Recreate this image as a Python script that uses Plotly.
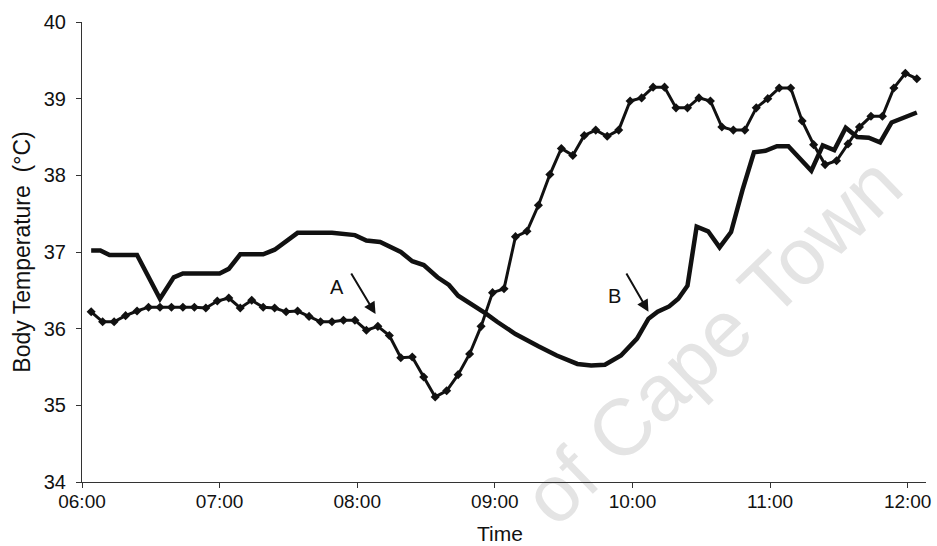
import plotly.graph_objects as go

# ---- data ----
s1_time = ["06:04", "06:08", "06:12", "06:24", "06:34", "06:40", "06:44", "07:00", "07:04", "07:09",
           "07:19", "07:24", "07:34", "07:49", "07:59", "08:04", "08:10", "08:14", "08:19", "08:24",
           "08:29", "08:35", "08:40", "08:44", "08:50", "08:56", "09:01", "09:09", "09:19", "09:27",
           "09:36", "09:42", "09:48", "09:55", "10:02", "10:07", "10:11", "10:16", "10:20", "10:24",
           "10:28", "10:33", "10:38", "10:43", "10:48", "10:53", "10:58", "11:03", "11:08", "11:18",
           "11:23", "11:28", "11:33", "11:38", "11:43", "11:48", "11:53", "11:58", "12:04"]
s1_temp = [37.02, 37.02, 36.96, 36.96, 36.39, 36.67, 36.72, 36.72, 36.78, 36.97,
           36.97, 37.03, 37.25, 37.25, 37.22, 37.15, 37.13, 37.07, 37.00, 36.88,
           36.83, 36.67, 36.57, 36.43, 36.32, 36.20, 36.09, 35.93, 35.77, 35.65,
           35.54, 35.52, 35.53, 35.65, 35.87, 36.13, 36.22, 36.29, 36.39, 36.56,
           37.33, 37.27, 37.06, 37.26, 37.81, 38.30, 38.32, 38.38, 38.38, 38.06,
           38.39, 38.33, 38.62, 38.50, 38.49, 38.43, 38.69, 38.75, 38.82]

s2_time = ["06:04", "06:09", "06:14", "06:19", "06:24", "06:29", "06:34", "06:39", "06:44", "06:49",
           "06:54", "06:59", "07:04", "07:09", "07:14", "07:19", "07:24", "07:29", "07:34", "07:39",
           "07:44", "07:49", "07:54", "07:59", "08:04", "08:09", "08:14", "08:19", "08:24", "08:29",
           "08:34", "08:39", "08:44", "08:49", "08:54", "08:59", "09:04", "09:09", "09:14", "09:19",
           "09:24", "09:29", "09:34", "09:39", "09:44", "09:49", "09:54", "09:59", "10:04", "10:09",
           "10:14", "10:19", "10:24", "10:29", "10:34", "10:39", "10:44", "10:49", "10:54", "10:59",
           "11:04", "11:09", "11:14", "11:19", "11:24", "11:29", "11:34", "11:39", "11:44", "11:49",
           "11:54", "11:59", "12:04"]
s2_temp = [36.22, 36.09, 36.09, 36.17, 36.23, 36.28, 36.28, 36.28, 36.28, 36.28,
           36.27, 36.36, 36.40, 36.27, 36.37, 36.28, 36.27, 36.22, 36.23, 36.16,
           36.09, 36.09, 36.11, 36.11, 35.98, 36.03, 35.91, 35.62, 35.63, 35.37,
           35.11, 35.19, 35.40, 35.67, 36.03, 36.47, 36.52, 37.20, 37.27, 37.61,
           38.01, 38.35, 38.26, 38.52, 38.59, 38.51, 38.59, 38.97, 39.01, 39.15,
           39.15, 38.88, 38.88, 39.01, 38.97, 38.63, 38.59, 38.59, 38.88, 39.00,
           39.14, 39.14, 38.71, 38.40, 38.14, 38.19, 38.41, 38.63, 38.77, 38.77,
           39.14, 39.33, 39.26]

x_ticks = ["06:00", "07:00", "08:00", "09:00", "10:00", "11:00", "12:00"]
y_ticks = [34, 35, 36, 37, 38, 39, 40]

# annotation arrows: (label, label_time, label_temp, tail_time, tail_temp, head_time, head_temp)
arrows = [
    ("A", "07:51", 36.54, "07:57", 36.74, "08:08", 36.19),
    ("B", "09:52", 36.43, "09:57", 36.74, "10:07", 36.22),
]

DAY = "2000-01-01 "
def d(t):
    return DAY + t

FONT = "Liberation Sans, Arial, sans-serif"
INK = "#111111"

fig = go.Figure()
fig.add_trace(go.Scatter(
    x=[d(t) for t in s1_time], y=s1_temp, mode="lines",
    line=dict(color=INK, width=4.5), showlegend=False))
fig.add_trace(go.Scatter(
    x=[d(t) for t in s2_time], y=s2_temp, mode="lines+markers",
    line=dict(color=INK, width=3),
    marker=dict(symbol="diamond", size=7, color=INK), showlegend=False))

for lab, lt, lv, tt, tv, ht, hv in arrows:
    fig.add_annotation(x=d(ht), y=hv, ax=d(tt), ay=tv, axref="x", ayref="y",
                       xref="x", yref="y", text="", showarrow=True,
                       arrowhead=2, arrowsize=1.2, arrowwidth=2, arrowcolor=INK)
    fig.add_annotation(x=d(lt), y=lv, xref="x", yref="y", text=lab, showarrow=False,
                       font=dict(family=FONT, size=20, color=INK))

# faint watermark behind the data
fig.add_shape(type="rect", xref="paper", yref="paper",
              x0=0.735, x1=0.745, y0=0.315, y1=0.325, layer="below",
              line=dict(width=0), fillcolor="rgba(0,0,0,0)",
              label=dict(text="of Cape Town", textangle=-44,
                         textposition="middle center",
                         font=dict(family=FONT, size=80, color="#e4e4e4")))

# x axis title placed as in the reference
fig.add_annotation(x=0.4947, y=-0.111, xref="paper", yref="paper", text="Time",
                   showarrow=False, xanchor="center", yanchor="middle",
                   font=dict(family=FONT, size=21, color=INK))

fig.update_xaxes(
    type="date", range=[d("06:00"), d("12:08")],
    tickvals=[d(t) for t in x_ticks], ticktext=x_ticks,
    showline=True, linecolor="#333333", linewidth=1,
    ticks="outside", ticklen=5, tickcolor="#333333",
    showgrid=False, zeroline=False, ticklabeloverflow="allow", ticklabelstandoff=-3,
    tickfont=dict(family=FONT, size=19, color=INK))
fig.update_yaxes(
    range=[34, 40], tickvals=y_ticks,
    showline=True, linecolor="#333333", linewidth=1,
    ticks="outside", ticklen=5, tickcolor="#333333",
    showgrid=False, zeroline=False, ticklabelstandoff=6,
    tickfont=dict(family=FONT, size=20, color=INK),
    title=dict(text="Body Temperature  (°C)", font=dict(family=FONT, size=23, color=INK), standoff=6))

fig.update_layout(
    width=937, height=546, autosize=False,
    margin=dict(l=82, r=6, t=22, b=64),
    paper_bgcolor="white", plot_bgcolor="white",
    font=dict(family=FONT))

fig.write_html("out.html")
